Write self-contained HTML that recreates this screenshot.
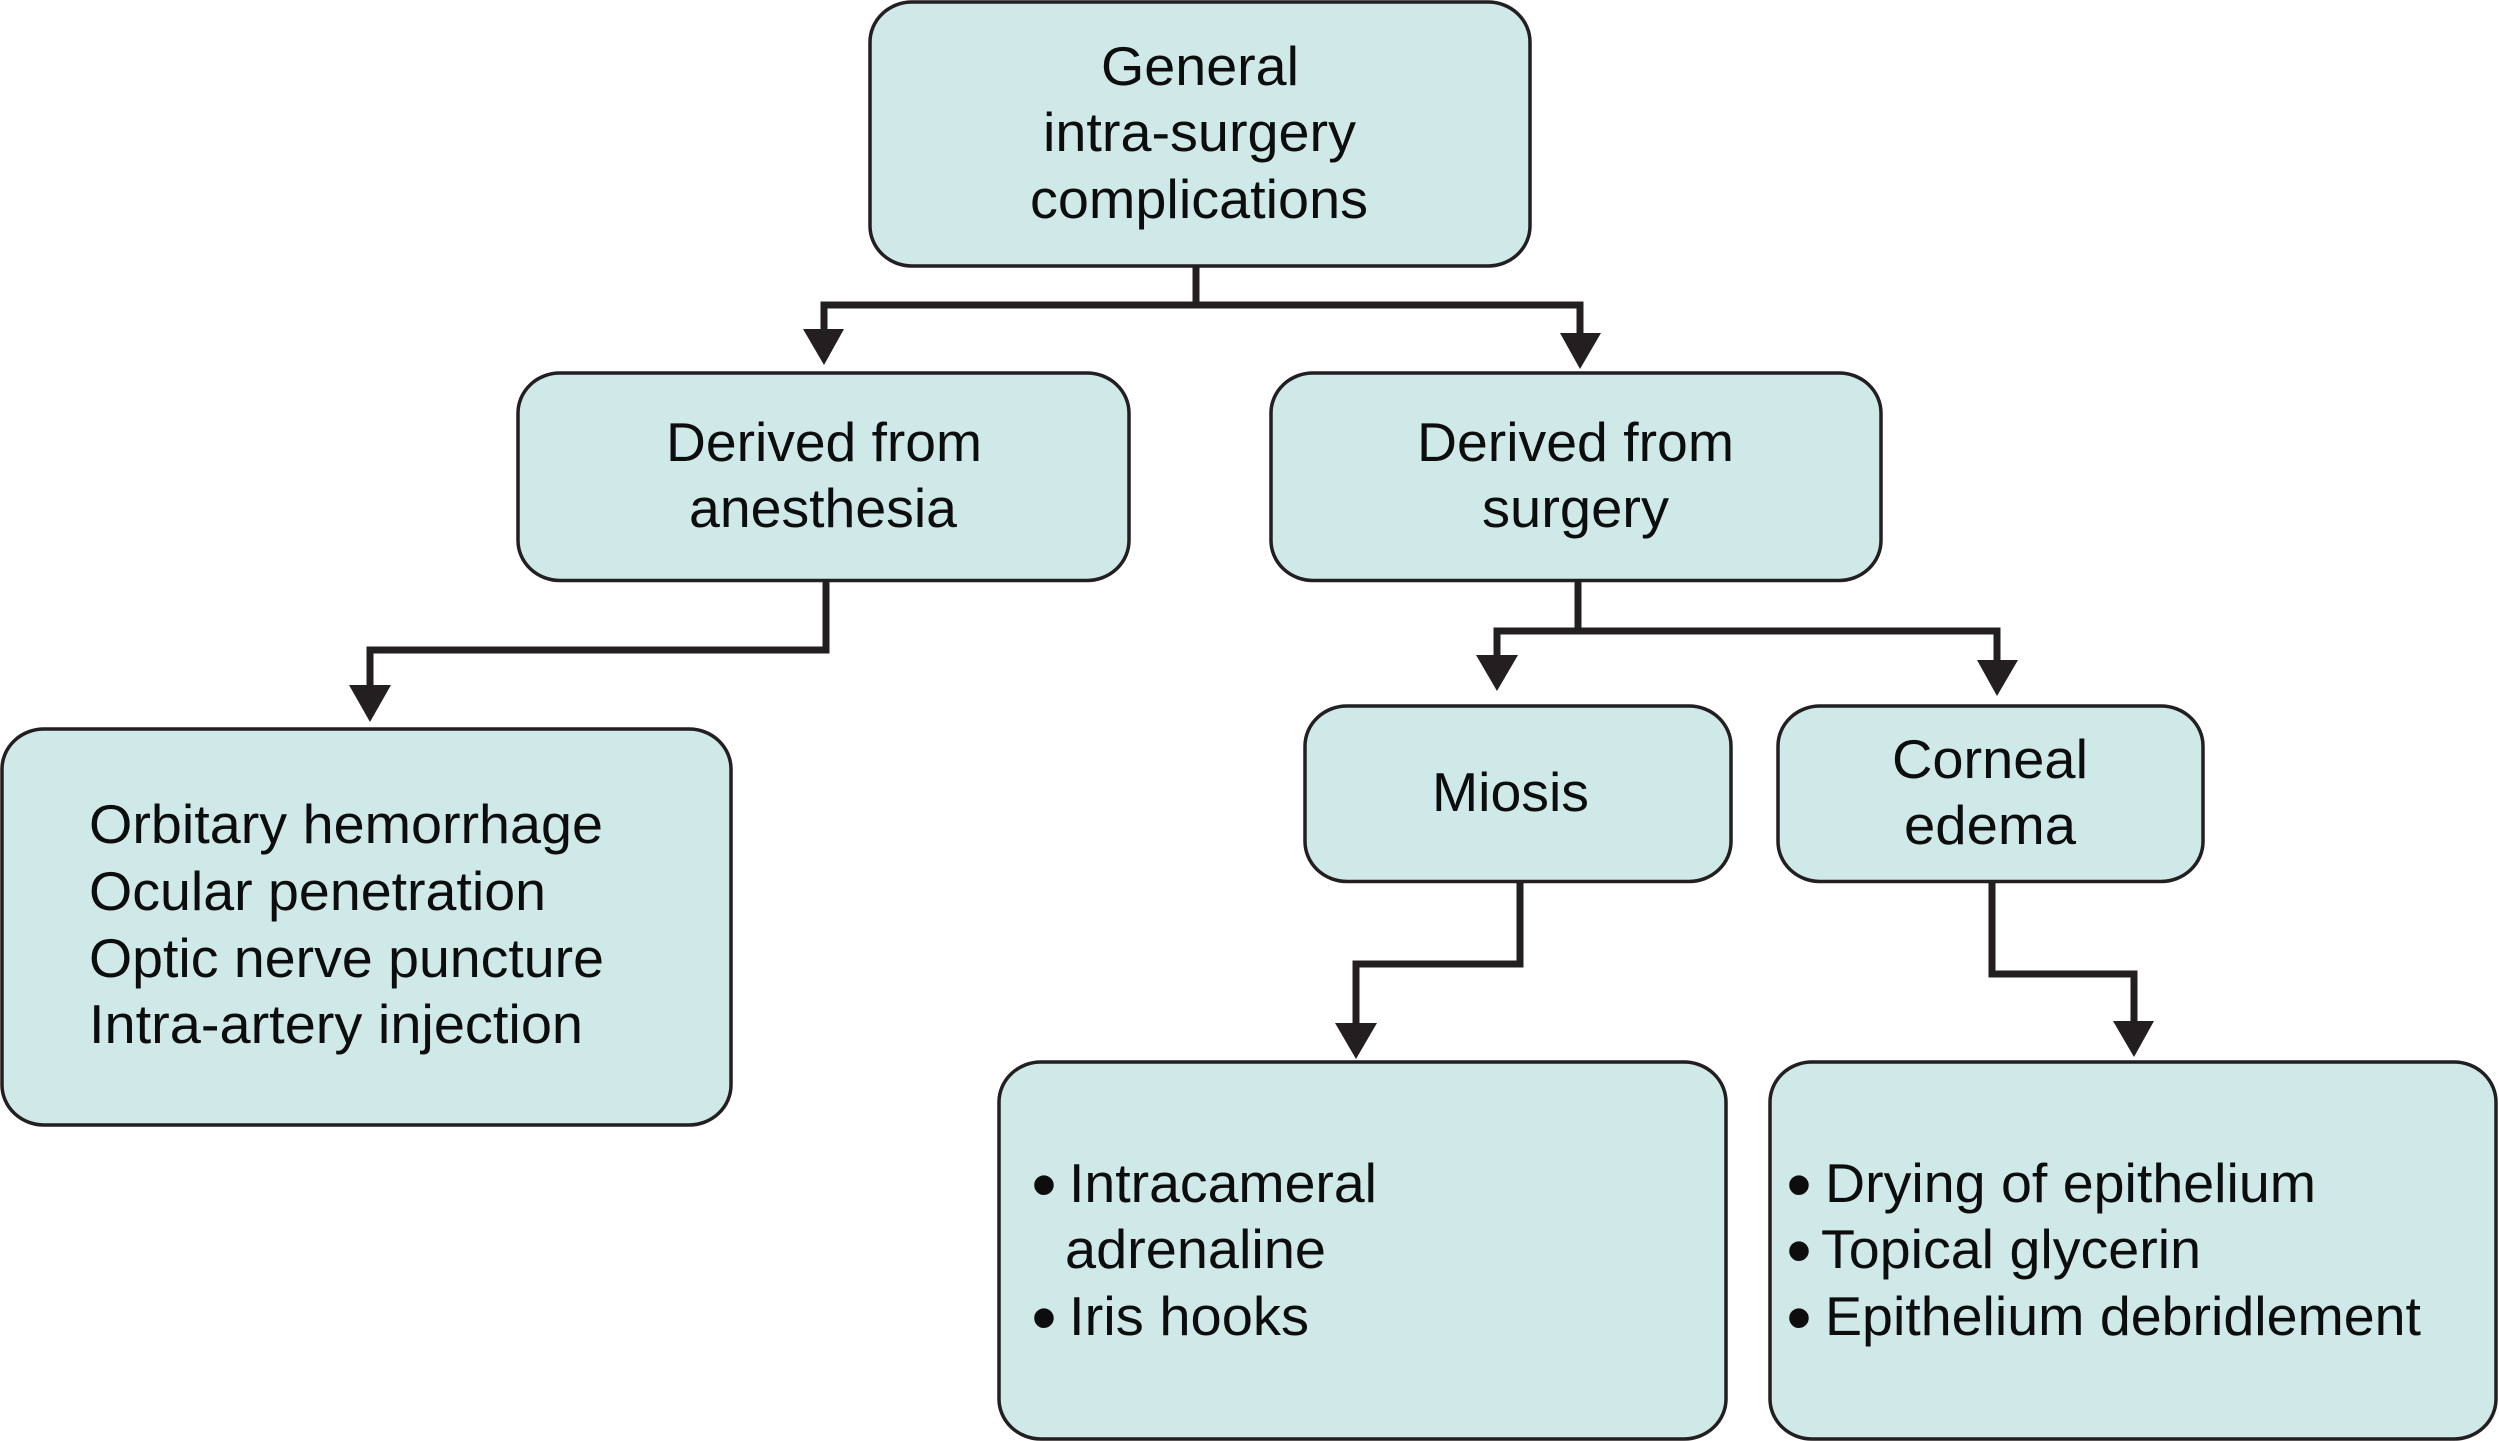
<!DOCTYPE html>
<html lang="en">
<head>
<meta charset="utf-8">
<title>General intra-surgery complications</title>
<style>
html,body{margin:0;padding:0;background:#fff;width:2499px;height:1441px;overflow:hidden}
svg{display:block}
.b{fill:#cfe9e8;stroke:#231f20;stroke-width:3.5}
.c{fill:none;stroke:#231f20;stroke-width:7;stroke-linejoin:miter;stroke-linecap:butt}
.a{fill:#231f20}
text{font-family:"Liberation Sans",sans-serif;font-size:55px;fill:#0d0d0d}
.d{font-size:72px}
</style>
</head>
<body>
<svg width="2499" height="1441" viewBox="0 0 2499 1441" xmlns="http://www.w3.org/2000/svg">
<rect width="2499" height="1441" fill="#fff"/>

<path class="c" d="M1196 266V305"/>
<path class="c" d="M824 335V305H1580V338"/>
<polygon class="a" points="803,329 844,329 824,365"/>
<polygon class="a" points="1560,333 1601,333 1580,369"/>

<path class="c" d="M826 581V650H370V690"/>
<polygon class="a" points="349,685 391,685 370,722"/>

<path class="c" d="M1578 581V631"/>
<path class="c" d="M1497 660V631H1997V665"/>
<polygon class="a" points="1476,655 1518,655 1497,691"/>
<polygon class="a" points="1977,660 2018,660 1997,696"/>

<path class="c" d="M1520 882V964H1356V1028"/>
<polygon class="a" points="1335,1023 1377,1023 1356,1059"/>

<path class="c" d="M1992 882V974H2134V1026"/>
<polygon class="a" points="2113,1021 2154,1021 2134,1057"/>

<rect class="b" x="870" y="2" width="660" height="264" rx="42" ry="40"/>
<rect class="b" x="518" y="373" width="611" height="207.500" rx="42" ry="40"/>
<rect class="b" x="1271" y="373" width="610" height="207.500" rx="42" ry="40"/>
<rect class="b" x="2" y="729" width="729" height="396" rx="42" ry="40"/>
<rect class="b" x="1305" y="706" width="426" height="175.500" rx="42" ry="40"/>
<rect class="b" x="1778" y="706" width="425" height="175.500" rx="42" ry="40"/>
<rect class="b" x="999" y="1062" width="727" height="377" rx="42" ry="40"/>
<rect class="b" x="1770" y="1062" width="726" height="377" rx="42" ry="40"/>

<text x="1101" y="85" textLength="198" lengthAdjust="spacingAndGlyphs">General</text>
<text x="1043" y="151" textLength="313" lengthAdjust="spacingAndGlyphs">intra-surgery</text>
<text x="1030" y="218" textLength="338" lengthAdjust="spacingAndGlyphs">complications</text>

<text x="666" y="461" textLength="316" lengthAdjust="spacingAndGlyphs">Derived from</text>
<text x="689" y="527" textLength="268" lengthAdjust="spacingAndGlyphs">anesthesia</text>

<text x="1417" y="461" textLength="317" lengthAdjust="spacingAndGlyphs">Derived from</text>
<text x="1482" y="527" textLength="187" lengthAdjust="spacingAndGlyphs">surgery</text>

<text x="89" y="843" textLength="514" lengthAdjust="spacingAndGlyphs">Orbitary hemorrhage</text>
<text x="89" y="910" textLength="457" lengthAdjust="spacingAndGlyphs">Ocular penetration</text>
<text x="89" y="977" textLength="515" lengthAdjust="spacingAndGlyphs">Optic nerve puncture</text>
<text x="89" y="1043" textLength="494" lengthAdjust="spacingAndGlyphs">Intra-artery injection</text>

<text x="1432" y="811" textLength="157" lengthAdjust="spacingAndGlyphs">Miosis</text>
<text x="1892" y="778" textLength="196" lengthAdjust="spacingAndGlyphs">Corneal</text>
<text x="1904" y="844" textLength="172" lengthAdjust="spacingAndGlyphs">edema</text>

<text class="d" x="1044" y="1209" text-anchor="middle">•</text>
<text x="1069" y="1202" textLength="308" lengthAdjust="spacingAndGlyphs">Intracameral</text>
<text x="1065" y="1268" textLength="261" lengthAdjust="spacingAndGlyphs">adrenaline</text>
<text class="d" x="1044" y="1342" text-anchor="middle">•</text>
<text x="1069" y="1335" textLength="240" lengthAdjust="spacingAndGlyphs">Iris hooks</text>

<text class="d" x="1799" y="1209" text-anchor="middle">•</text>
<text x="1825" y="1202" textLength="491" lengthAdjust="spacingAndGlyphs">Drying of epithelium</text>
<text class="d" x="1799" y="1275" text-anchor="middle">•</text>
<text x="1821" y="1268" textLength="380" lengthAdjust="spacingAndGlyphs">Topical glycerin</text>
<text class="d" x="1799" y="1342" text-anchor="middle">•</text>
<text x="1825" y="1335" textLength="596" lengthAdjust="spacingAndGlyphs">Epithelium debridlement</text>
</svg>
</body>
</html>
